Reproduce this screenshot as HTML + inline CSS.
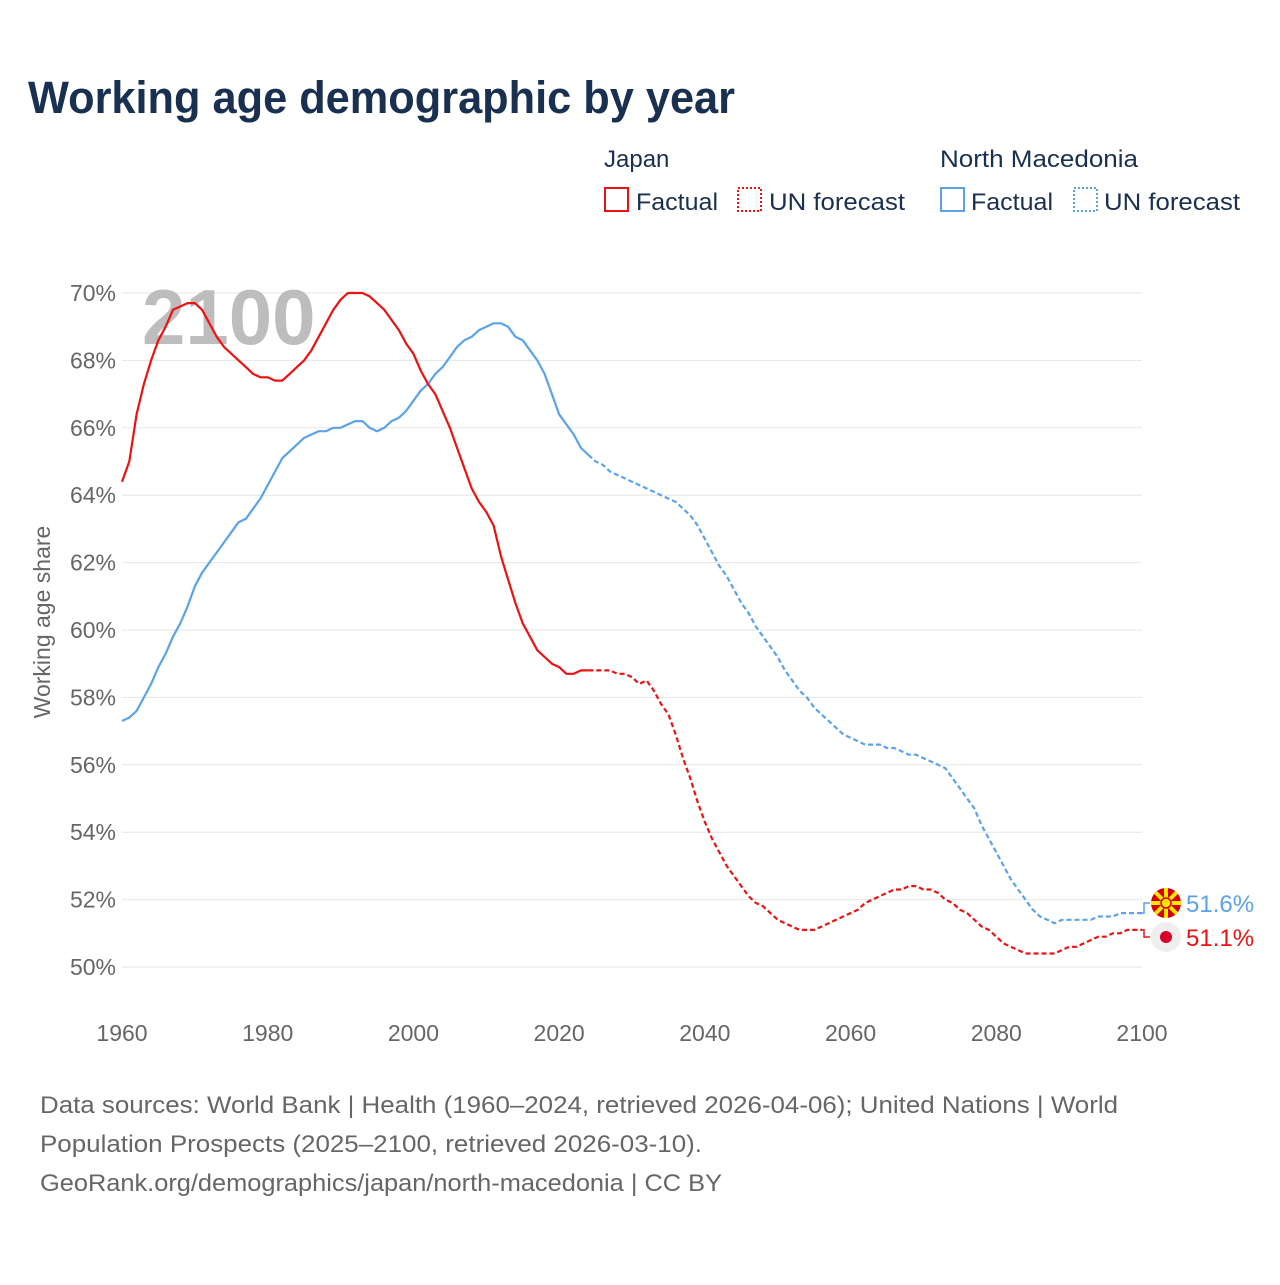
<!DOCTYPE html>
<html><head><meta charset="utf-8">
<style>
body{margin:0;background:#fff;width:1280px;height:1280px;overflow:hidden;font-family:"Liberation Sans",sans-serif;}
svg text{font-family:"Liberation Sans",sans-serif;}
</style></head>
<body>
<svg id="chart" width="1280" height="1280" xmlns="http://www.w3.org/2000/svg">
<text x="28" y="113" font-size="45" font-weight="bold" fill="#1a3050" textLength="707" lengthAdjust="spacingAndGlyphs">Working age demographic by year</text>
<g fill="#1a3050" font-size="24">
<text x="604" y="167">Japan</text>
<text x="940" y="167" textLength="198" lengthAdjust="spacingAndGlyphs">North Macedonia</text>
<rect x="605" y="188" width="23" height="23" fill="none" stroke="#ee1111" stroke-width="2"/>
<text x="636" y="210" textLength="82" lengthAdjust="spacingAndGlyphs">Factual</text>
<rect x="738" y="188" width="23" height="23" fill="none" stroke="#ee1111" stroke-width="2" stroke-dasharray="2,2"/>
<text x="769" y="210" textLength="136" lengthAdjust="spacingAndGlyphs">UN forecast</text>
<rect x="941" y="188" width="23" height="23" fill="none" stroke="#5ba3e8" stroke-width="2"/>
<text x="971" y="210" textLength="82" lengthAdjust="spacingAndGlyphs">Factual</text>
<rect x="1074" y="188" width="23" height="23" fill="none" stroke="#5ba3e8" stroke-width="2" stroke-dasharray="2,2"/>
<text x="1104" y="210" textLength="136" lengthAdjust="spacingAndGlyphs">UN forecast</text>
</g>
<g id="grid"></g>
<text x="142" y="344" font-size="78" font-weight="bold" fill="#bdbdbd">2100</text>
<text transform="translate(50,622) rotate(-90)" text-anchor="middle" font-size="23" fill="#666">Working age share</text>
<g id="series"></g>
<g id="ends"></g>
<g font-size="24" fill="#666">
<text x="40" y="1113" textLength="1078" lengthAdjust="spacingAndGlyphs">Data sources: World Bank | Health (1960–2024, retrieved 2026-04-06); United Nations | World</text>
<text x="40" y="1152" textLength="662" lengthAdjust="spacingAndGlyphs">Population Prospects (2025–2100, retrieved 2026-03-10).</text>
<text x="40" y="1191" textLength="682" lengthAdjust="spacingAndGlyphs">GeoRank.org/demographics/japan/north-macedonia | CC BY</text>
</g>
</svg>
<script>
const startYear = 1960;
const forecastStart = 2024;
const yTicks = [50,52,54,56,58,60,62,64,66,68,70];
const xTicks = [1960,1980,2000,2020,2040,2060,2080,2100];
const japan = [64.4,65.0,66.4,67.3,68.0,68.6,69.0,69.5,69.6,69.7,69.7,69.5,69.1,68.7,68.4,68.2,68.0,67.8,67.6,67.5,67.5,67.4,67.4,67.6,67.8,68.0,68.3,68.7,69.1,69.5,69.8,70.0,70.0,70.0,69.9,69.7,69.5,69.2,68.9,68.5,68.2,67.7,67.3,67.0,66.5,66.0,65.4,64.8,64.2,63.8,63.5,63.1,62.2,61.5,60.8,60.2,59.8,59.4,59.2,59.0,58.9,58.7,58.7,58.8,58.8,
58.8,58.8,58.8,58.7,58.7,58.6,58.4,58.5,58.2,57.8,57.5,56.9,56.2,55.6,54.9,54.3,53.8,53.4,53.0,52.7,52.4,52.1,51.9,51.8,51.6,51.4,51.3,51.2,51.1,51.1,51.1,51.2,51.3,51.4,51.5,51.6,51.7,51.9,52.0,52.1,52.2,52.3,52.3,52.4,52.4,52.3,52.3,52.2,52.0,51.9,51.7,51.6,51.4,51.2,51.1,50.9,50.7,50.6,50.5,50.4,50.4,50.4,50.4,50.4,50.5,50.6,50.6,50.7,50.8,50.9,50.9,51.0,51.0,51.1,51.1,51.1];
const macedonia = [57.3,57.4,57.6,58.0,58.4,58.9,59.3,59.8,60.2,60.7,61.3,61.7,62.0,62.3,62.6,62.9,63.2,63.3,63.6,63.9,64.3,64.7,65.1,65.3,65.5,65.7,65.8,65.9,65.9,66.0,66.0,66.1,66.2,66.2,66.0,65.9,66.0,66.2,66.3,66.5,66.8,67.1,67.3,67.6,67.8,68.1,68.4,68.6,68.7,68.9,69.0,69.1,69.1,69.0,68.7,68.6,68.3,68.0,67.6,67.0,66.4,66.1,65.8,65.4,65.2,
65.0,64.9,64.7,64.6,64.5,64.4,64.3,64.2,64.1,64.0,63.9,63.8,63.6,63.4,63.1,62.7,62.3,61.9,61.6,61.2,60.8,60.5,60.1,59.8,59.5,59.2,58.8,58.5,58.2,58.0,57.7,57.5,57.3,57.1,56.9,56.8,56.7,56.6,56.6,56.6,56.5,56.5,56.4,56.3,56.3,56.2,56.1,56.0,55.9,55.6,55.3,55.0,54.7,54.2,53.8,53.4,53.0,52.6,52.3,52.0,51.7,51.5,51.4,51.3,51.4,51.4,51.4,51.4,51.4,51.5,51.5,51.5,51.6,51.6,51.6,51.6];
const NS='http://www.w3.org/2000/svg';
const x = yr => 122 + (yr-1960)*(1020/140);
const y = v => 967 - (v-50)*33.7;
function mk(tag, attrs, parent){const e=document.createElementNS(NS,tag);for(const k in attrs)e.setAttribute(k,attrs[k]);parent.appendChild(e);return e;}
const grid=document.getElementById('grid');
yTicks.forEach(t=>{
  const l=mk('line',{x1:122,x2:1142,y1:y(t),y2:y(t),stroke:'#e6e6e6','stroke-width':1},grid);
  
  
  const tx=mk('text',{x:116,y:y(t)+8,'text-anchor':'end','font-size':23,fill:'#666'},grid);
  tx.textContent=t+'%';
  
  
});
xTicks.forEach(t=>{
  const tx=mk('text',{x:x(t),y:1041,'text-anchor':'middle','font-size':23,fill:'#666'},grid);
  tx.textContent=t;
  
  
});
const ser=document.getElementById('series');
function draw(vals,color,name){
  const fi=forecastStart-startYear;
  const pts=vals.map((v,i)=>x(startYear+i).toFixed(1)+','+y(v).toFixed(1));
  const a=mk('polyline',{points:pts.slice(0,fi+1).join(' '),fill:'none',stroke:color,'stroke-width':2.2,'stroke-linejoin':'round'},ser);
  
  
  const b=mk('polyline',{points:pts.slice(fi).join(' '),fill:'none',stroke:color,'stroke-width':2.2,'stroke-dasharray':'5,3'},ser);
  
  
}
draw(macedonia,'#5ba3e8','macedonia');
draw(japan,'#ee1111','japan');
const ends=document.getElementById('ends');
function endLabel(v,ly,color,name,flag){
  const p=mk('polyline',{points:`${x(2100)},${y(v)} 1144,${y(v)} 1144,${ly} 1150,${ly}`,fill:'none',stroke:color,'stroke-width':1.5},ends);
  
  
  const g=mk('g',{},ends);
  
  
  if(flag==='mk'){
    mk('circle',{cx:1166,cy:ly,r:15,fill:'#d20000'},g);
    for(let i=0;i<8;i++){const a=i*Math.PI/4;mk('line',{x1:1166,y1:ly,x2:1166+15*Math.cos(a),y2:ly+15*Math.sin(a),stroke:'#ffe600','stroke-width':4},g);}
    mk('circle',{cx:1166,cy:ly,r:5,fill:'#ffe600',stroke:'#d20000','stroke-width':1.5},g);
  } else {
    mk('circle',{cx:1166,cy:ly,r:15,fill:'#eeeeee'},g);
    mk('circle',{cx:1166,cy:ly,r:6,fill:'#d7002a'},g);
  }
  const t=mk('text',{x:1186,y:ly+9,'font-size':24,fill:color},ends);
  t.textContent=v.toFixed(1)+'%';
  
  
}
endLabel(macedonia[macedonia.length-1],903,'#5ba3e8','macedonia','mk');
endLabel(japan[japan.length-1],937,'#ee1111','japan','jp');
</script>
</body></html>
